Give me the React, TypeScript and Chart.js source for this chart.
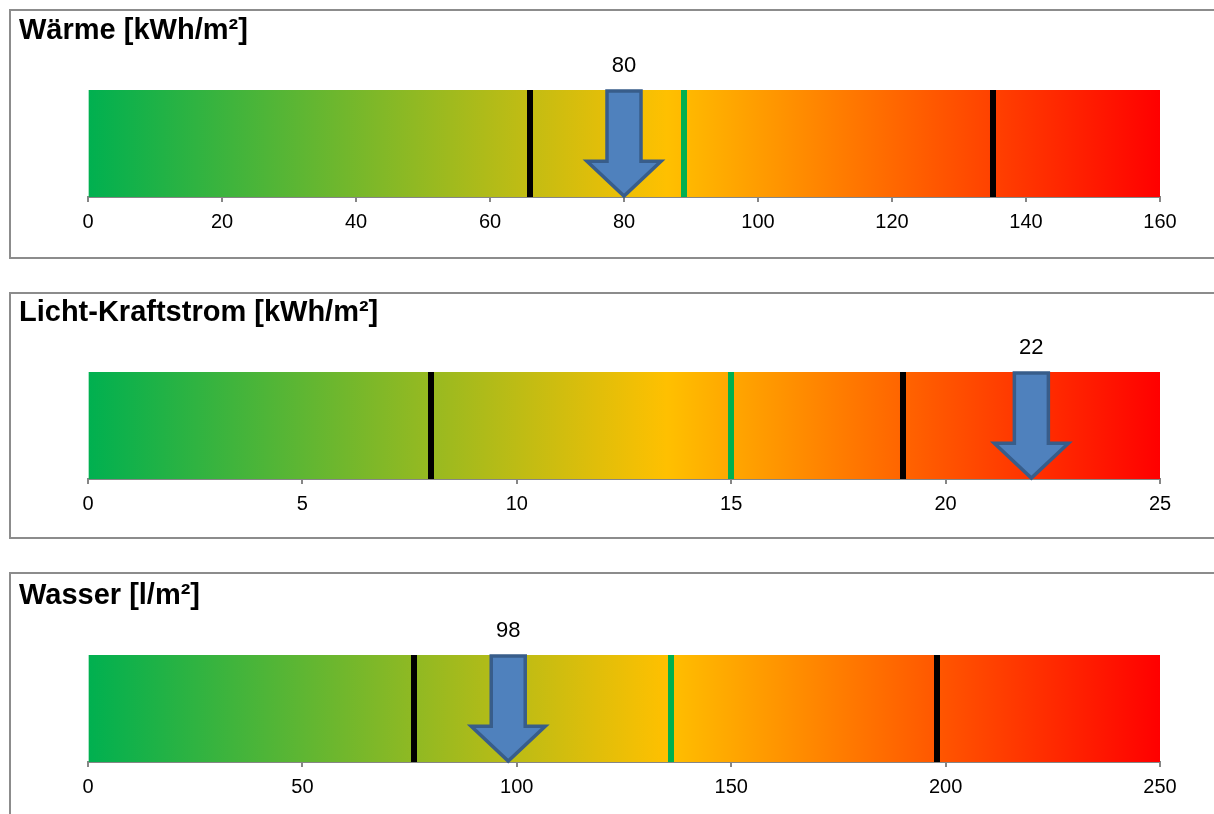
import React, { useEffect, useRef } from "react";
import { Chart, registerables } from "chart.js";

Chart.register(...registerables);

const panelTitles = ["Wärme [kWh/m²]", "Licht-Kraftstrom [kWh/m²]", "Wasser [l/m²]"];
const axisMax = [160, 25, 250];
const axisStep = [20, 5, 50];
const blackLines = [
  [66, 135],
  [8, 19],
  [76, 198],
];
const greenLines = [89, 15, 136];
const values = [80, 22, 98];

const boxTops = [9, 292, 572];
const boxHeights = [250, 247, 260];
const canvasShift = [0, -1, 2];
const FONT = "'Liberation Sans', Arial, sans-serif";

const markerPlugin = {
  id: "markers",
  afterDatasetsDraw(chart: any, _args: any, opts: any) {
    const { ctx, chartArea: a, scales } = chart;
    const x = scales.x;
    ctx.save();
    const drawLine = (v: number, color: string) => {
      const px = Math.round(x.getPixelForValue(v));
      ctx.fillStyle = color;
      ctx.fillRect(px - 3, a.top, 6, a.bottom - a.top);
    };
    (opts.black as number[]).forEach((v) => drawLine(v, "#000000"));
    drawLine(opts.green, "#00B050");

    const cx = x.getPixelForValue(opts.value);
    const top = a.top + 1;
    const bottom = a.bottom - 1;
    const h = bottom - top;
    const neck = top + h * 0.67;
    const sw = 17;
    const hw = 37;
    ctx.beginPath();
    ctx.moveTo(cx - sw, top);
    ctx.lineTo(cx + sw, top);
    ctx.lineTo(cx + sw, neck);
    ctx.lineTo(cx + hw, neck);
    ctx.lineTo(cx, bottom);
    ctx.lineTo(cx - hw, neck);
    ctx.lineTo(cx - sw, neck);
    ctx.closePath();
    ctx.fillStyle = "#4F81BD";
    ctx.fill();
    ctx.lineWidth = 3.5;
    ctx.lineJoin = "miter";
    ctx.strokeStyle = "#385D8A";
    ctx.stroke();

    ctx.fillStyle = "#000000";
    ctx.font = `22px ${FONT}`;
    ctx.textAlign = "center";
    ctx.textBaseline = "middle";
    ctx.fillText(String(opts.value), cx, a.top - 24);
    ctx.restore();
  },
};

function Panel({ i }: { i: number }) {
  const ref = useRef<HTMLCanvasElement>(null);
  useEffect(() => {
    if (!ref.current) return;
    const chart = new Chart(ref.current, {
      type: "bar",
      data: {
        labels: [""],
        datasets: [
          {
            data: [[0, axisMax[i]]] as any,
            backgroundColor: (c: any) => {
              const { chart: ch } = c;
              const area = ch.chartArea;
              if (!area) return "#FFC000";
              const g = ch.ctx.createLinearGradient(area.left, 0, area.right, 0);
              g.addColorStop(0, "#00B050");
              g.addColorStop(0.54, "#FFC000");
              g.addColorStop(1, "#FF0000");
              return g;
            },
            borderWidth: 0,
            barPercentage: 1,
            categoryPercentage: 1,
          },
        ],
      },
      options: {
        animation: false,
        responsive: false,
        indexAxis: "y",
        layout: { padding: { left: 8, right: 54, top: 0, bottom: 0 } },
        plugins: {
          legend: { display: false },
          tooltip: { enabled: false },
          title: {
            display: true,
            text: panelTitles[i],
            align: "start",
            color: "#000000",
            font: { family: FONT, size: 29, weight: "bold" },
            padding: { top: 2.6, bottom: 41.6 },
          },
          markers: {
            black: blackLines[i],
            green: greenLines[i],
            value: values[i],
          },
        } as any,
        scales: {
          x: {
            type: "linear",
            min: 0,
            max: axisMax[i],
            afterFit: (s: any) => {
              s.height = 60;
            },
            ticks: {
              stepSize: axisStep[i],
              color: "#000000",
              padding: 8,
              font: { family: FONT, size: 20 },
              maxRotation: 0,
            },
            grid: {
              display: true,
              drawOnChartArea: false,
              drawTicks: true,
              tickLength: 5,
              color: "#868686",
              lineWidth: 2,
            },
            border: { display: true, color: "#868686", width: 2 },
          },
          y: {
            display: true,
            afterFit: (s: any) => {
              s.width = 69;
            },
            ticks: { display: false },
            grid: { display: false },
            border: { display: false },
          },
        },
      },
      plugins: [markerPlugin],
    });
    return () => chart.destroy();
  }, [i]);

  return (
    <div
      style={{
        position: "absolute",
        left: 9,
        top: boxTops[i],
        width: 1230,
        height: boxHeights[i],
        boxSizing: "border-box",
        border: "2px solid #8C8C8C",
        background: "#ffffff",
      }}
    >
      <canvas
        ref={ref}
        width={1203}
        height={246}
        style={{ display: "block", width: 1203, height: 246, marginTop: canvasShift[i] }}
      />
    </div>
  );
}

export default function App() {
  return (
    <div
      style={{
        position: "fixed",
        left: 0,
        top: 0,
        width: 1214,
        height: 814,
        overflow: "hidden",
        background: "#ffffff",
      }}
    >
      {[0, 1, 2].map((i) => (
        <Panel key={i} i={i} />
      ))}
    </div>
  );
}
